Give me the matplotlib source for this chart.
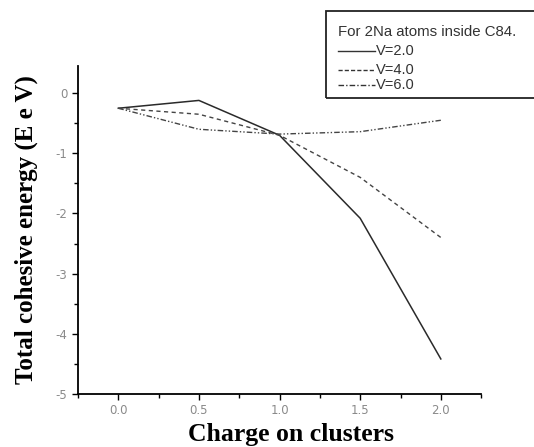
import matplotlib
matplotlib.use('Agg')
import matplotlib.pyplot as plt
from matplotlib.patches import Rectangle
from matplotlib.lines import Line2D
from matplotlib.ticker import MultipleLocator

plt.rcParams['axes.unicode_minus'] = False

# data
charge = [0.0, 0.5, 1.0, 1.5, 2.0]
v2 = [-0.25, -0.12, -0.70, -2.08, -4.42]
v4 = [-0.25, -0.35, -0.70, -1.40, -2.40]
v6 = [-0.25, -0.60, -0.68, -0.64, -0.45]
labels = ['V=2.0', 'V=4.0', 'V=6.0']
legend_title = 'For 2Na atoms inside C84.'

fig = plt.figure(figsize=(5.34, 4.47), dpi=100)
ax = fig.add_axes([0.146, 0.119, 0.755, 0.733])

ax.plot(charge, v2, '-', color='#2a2a2a', lw=1.1)
ax.plot(charge, v4, color='#444444', lw=1.0, dashes=(3, 2.5))
ax.plot(charge, v6, color='#444444', lw=1.0, dashes=(4, 1.5, 1, 1.5, 1, 1.5))

ax.set_xlim(-0.25, 2.25)
ax.set_ylim(-5, 0.45)
ax.xaxis.set_major_locator(MultipleLocator(0.5))
ax.xaxis.set_minor_locator(MultipleLocator(0.25))
ax.yaxis.set_major_locator(MultipleLocator(1))
ax.yaxis.set_minor_locator(MultipleLocator(0.5))
ax.set_xticks([0.0, 0.5, 1.0, 1.5, 2.0])
ax.set_xticklabels(['0.0', '0.5', '1.0', '1.5', '2.0'])
ax.spines['top'].set_visible(False)
ax.spines['right'].set_visible(False)
for s in ['left', 'bottom']:
    ax.spines[s].set_linewidth(1.3)
ax.tick_params(which='major', direction='out', length=4.5, width=1, labelsize=8.5,
               labelcolor='#8a8a8a', pad=3)
ax.tick_params(which='minor', direction='out', length=3, width=1)

ax.set_xlabel('Charge on clusters', family='Liberation Serif', weight='bold',
              fontsize=18.5)
ax.set_ylabel('Total cohesive energy (E e V)', family='Liberation Serif',
              weight='bold', fontsize=18)
ax.xaxis.set_label_coords(0.528, -0.088)
ax.yaxis.set_label_coords(-0.1, 0.5)

# legend box, running off the right edge like the reference
W, H = 534.0, 447.0
fig.patches.append(Rectangle((326 / W, 1 - 98 / H), 230 / W, 87 / H,
                             transform=fig.transFigure, fill=False,
                             edgecolor='#222222', lw=1.3, clip_on=False))
fig.text(338 / W, 1 - 32 / H, legend_title, family='Liberation Sans',
         fontsize=10.8, color='#333333', va='center')
styles = [dict(ls='-'), dict(dashes=(3, 1.5)), dict(dashes=(4, 1.5, 1, 1.5))]
rows = [51, 70, 85]
for lab, st, yy in zip(labels, styles, rows):
    fig.lines.append(Line2D([338 / W, 375 / W], [1 - yy / H, 1 - yy / H],
                            transform=fig.transFigure, color='#333333',
                            lw=1.0, **st))
    fig.text(376 / W, 1 - yy / H, lab, family='Liberation Sans', fontsize=10.5,
             color='#333333', va='center')

fig.savefig('out.png', dpi=100)
